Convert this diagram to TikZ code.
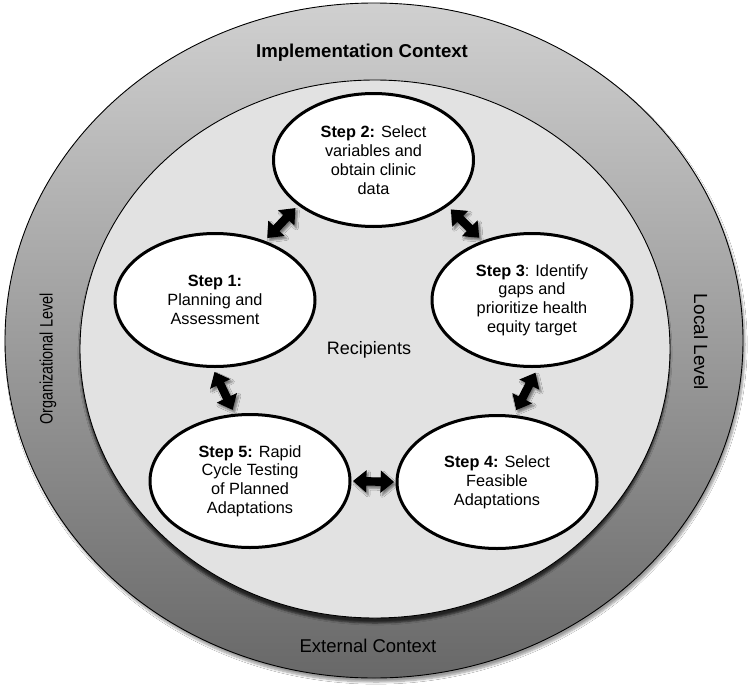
\documentclass[tikz,border=0pt]{standalone}
\usepackage{fontspec}
\setmainfont{Liberation Sans}
\usepackage{graphicx}
\usetikzlibrary{shapes.geometric,shapes.arrows,shadows.blur}
\definecolor{outertop}{RGB}{208,208,208}
\definecolor{outerbot}{RGB}{104,104,104}
\definecolor{innerfill}{RGB}{226,226,226}
\begin{document}
\begin{tikzpicture}[x=1pt,y=-1pt,
  stepnode/.style={ellipse, draw=black, line width=3pt, fill=white,
    minimum width=200pt, minimum height=133pt, inner sep=0pt, align=center,
    font=\fontsize{16.3}{18.8}\selectfont},
  biarrow/.style={double arrow, fill=black, draw=none,
    inner xsep=0pt, inner ysep=4pt, minimum width=0pt,
    double arrow head extend=7pt,
    double arrow tip angle=80, minimum height=#1, sloped,
    blur shadow={shadow xshift=2pt, shadow yshift=-2.5pt,
      shadow blur radius=2pt, shadow opacity=50}},
  ringlabel/.style={font=\fontsize{18}{21}\selectfont}]
\useasboundingbox (0,0) rectangle (749,688);
\fill[white] (0,0) rectangle (749,688);
% outer context ring
\draw[line width=0.9pt, top color=outertop, bottom color=outerbot,
  blur shadow={shadow xshift=2pt, shadow yshift=-4pt, shadow blur steps=8}]
  (374,340.5) ellipse [x radius=369, y radius=337.5];
% inner recipients area
\draw[line width=0.9pt, fill=innerfill,
  blur shadow={shadow xshift=0pt, shadow yshift=-5pt, shadow opacity=70}]
  (375,349) ellipse [x radius=295, y radius=269];
% labels
\node[font=\bfseries\fontsize{18.6}{21}\selectfont] (impl) at (362,53)
  {Implementation Context};
\node[font=\fontsize{18.5}{21}\selectfont] (ext) at (368,646)
  {External Context};
\node[ringlabel, rotate=90] (org) at (48,359)
  {\scalebox{0.8}[1]{Organizational Level}};
\node[font=\fontsize{19}{22}\selectfont, rotate=-90] (loc) at (701,342) {Local Level};
\node[ringlabel] (rec) at (369,350) {Recipients};
% steps
\node[stepnode] (s2) at (373.5,160) {\textbf{Step 2:} Select\\variables and\\obtain clinic\\data};
\node[stepnode] (s1) at (215,300) {\textbf{Step 1:}\\Planning and\\Assessment};
\node[stepnode] (s3) at (532,300) {\textbf{Step 3}: Identify\\gaps and\\prioritize health\\equity target};
\node[stepnode] (s4) at (497,482) {\textbf{Step 4:} Select\\Feasible\\Adaptations};
\node[stepnode] (s5) at (250,481) {\textbf{Step 5:} Rapid\\Cycle Testing\\of Planned\\Adaptations};
% double-headed arrows between steps
\path (s2.211) -- node[biarrow=41pt] (a21) {} (s1.50);
\path (s2.328) -- node[biarrow=40pt] (a23) {} (s3.130);
\path (s1.268) -- node[biarrow=42pt] (a15) {} (s5.103);
\path (s3.275) -- node[biarrow=42pt] (a34) {} (s4.76);
\path (s5.0) -- node[biarrow=41pt] (a54) {} (s4.180);
\end{tikzpicture}
\end{document}
